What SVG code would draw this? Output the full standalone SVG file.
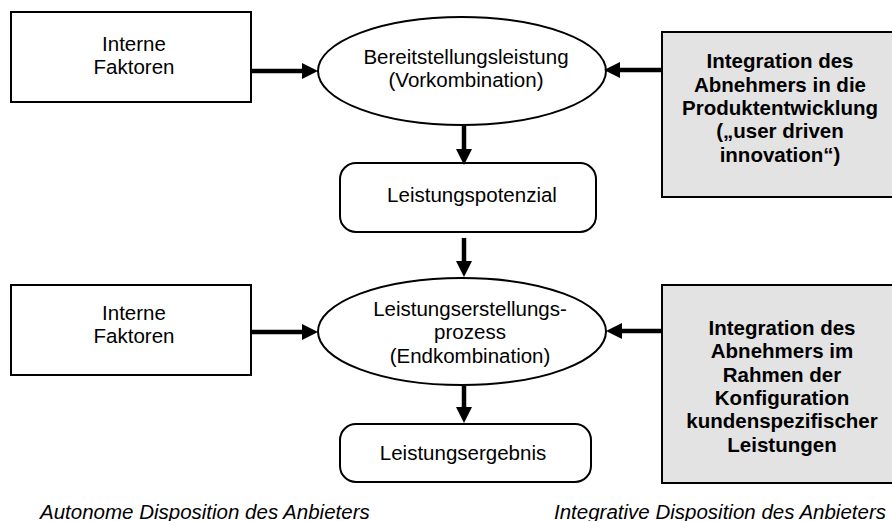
<svg xmlns="http://www.w3.org/2000/svg" width="892" height="521" viewBox="0 0 892 521">
  <style>
    .box { fill: #ffffff; stroke: #000000; stroke-width: 2; }
    .gray { fill: #e3e3e3; stroke: #000000; stroke-width: 2; }
    .t { font-family: "Liberation Sans", Arial, sans-serif; font-size: 20.5px; fill: #000000; text-anchor: middle; }
    .b { font-weight: bold; }
    .cap { font-family: "Liberation Sans", Arial, sans-serif; font-size: 20.5px; font-style: italic; fill: #000000; }
    .conn { stroke: #000000; stroke-width: 4.5; fill: none; marker-end: url(#ah); }
  </style>
  <defs>
    <marker id="ah" viewBox="0 0 16 16" refX="4" refY="8" markerWidth="16" markerHeight="16" markerUnits="userSpaceOnUse" orient="auto">
      <path d="M0,0 L16,8 L0,16 Z" fill="#000000"/>
    </marker>
  </defs>

  <g id="interne1">
    <rect class="box" x="11" y="12" width="240" height="90"/>
    <text class="t" x="134" y="50.7">Interne</text>
    <text class="t" x="134" y="74">Faktoren</text>
  </g>

  <g id="bereitstellung">
    <ellipse class="box" cx="462" cy="71" rx="144" ry="54"/>
    <text class="t" x="466" y="64">Bereitstellungsleistung</text>
    <text class="t" x="466" y="87.3">(Vorkombination)</text>
  </g>

  <g id="integration1">
    <rect class="gray" x="662" y="32" width="240" height="165"/>
    <text class="t b" x="780" y="68.3">Integration des</text>
    <text class="t b" x="780" y="91.7">Abnehmers in die</text>
    <text class="t b" x="780" y="115">Produktentwicklung</text>
    <text class="t b" x="780" y="138.3">(„user driven</text>
    <text class="t b" x="780" y="161.7">innovation“)</text>
  </g>

  <g id="potenzial">
    <rect class="box" x="340" y="163" width="256" height="69" rx="16" ry="16"/>
    <text class="t" x="472" y="202">Leistungspotenzial</text>
  </g>

  <g id="interne2">
    <rect class="box" x="11" y="285" width="240" height="90"/>
    <text class="t" x="134" y="320">Interne</text>
    <text class="t" x="134" y="343.3">Faktoren</text>
  </g>

  <g id="prozess">
    <ellipse class="box" cx="462" cy="331.5" rx="144" ry="53.5"/>
    <text class="t" x="470" y="315.7">Leistungserstellungs-</text>
    <text class="t" x="470" y="339">prozess</text>
    <text class="t" x="470" y="362.5">(Endkombination)</text>
  </g>

  <g id="integration2">
    <rect class="gray" x="662" y="285" width="240" height="198"/>
    <text class="t b" x="782" y="335">Integration des</text>
    <text class="t b" x="782" y="358.3">Abnehmers im</text>
    <text class="t b" x="782" y="381.7">Rahmen der</text>
    <text class="t b" x="782" y="405">Konfiguration</text>
    <text class="t b" x="782" y="428.3">kundenspezifischer</text>
    <text class="t b" x="782" y="451.7">Leistungen</text>
  </g>

  <g id="ergebnis">
    <rect class="box" x="340" y="424" width="251" height="58" rx="16" ry="16"/>
    <text class="t" x="463" y="460">Leistungsergebnis</text>
  </g>

  <g id="connectors">
    <line class="conn" x1="251" y1="71" x2="306" y2="71"/>
    <line class="conn" x1="662" y1="70" x2="616" y2="70"/>
    <line class="conn" x1="464" y1="125" x2="464" y2="153"/>
    <line class="conn" x1="464" y1="238" x2="464" y2="265"/>
    <line class="conn" x1="251" y1="332" x2="306" y2="332"/>
    <line class="conn" x1="662" y1="331" x2="618" y2="331"/>
    <line class="conn" x1="464" y1="386" x2="464" y2="411"/>
  </g>

  <g id="captions">
    <text class="cap" x="40" y="518.5">Autonome Disposition des Anbieters</text>
    <text class="cap" x="886" y="518.5" text-anchor="end">Integrative Disposition des Anbieters</text>
  </g>
</svg>
